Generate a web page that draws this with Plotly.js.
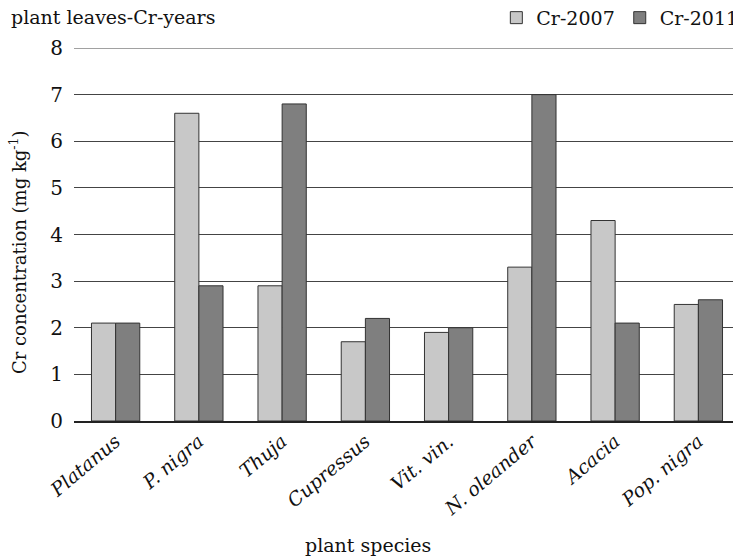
<!DOCTYPE html>
<html><head><meta charset="utf-8">
<script src="https://cdn.plot.ly/plotly-3.0.1.min.js"></script>
<style>html,body{margin:0;padding:0;overflow:hidden;background:#fff;width:733px;height:556px}</style>
</head><body><div id="chart"></div>
<script>
const species = ["Platanus","P. nigra","Thuja","Cupressus","Vit. vin.","N. oleander","Acacia","Pop. nigra"];
const cr2007 = [2.1, 6.6, 2.9, 1.7, 1.9, 3.3, 4.3, 2.5];
const cr2011 = [2.1, 2.9, 6.8, 2.2, 2.0, 7.0, 2.1, 2.6];
const tickLabels = species.map(s => "<i>" + s + "</i>");
const yTicks = [0,1,2,3,4,5,6,7,8];
const yMax = 8;

const font = "DejaVu Serif, Liberation Serif, serif";
const traces = [
  {type:"bar", name:"Cr-2007", x:species, y:cr2007,
   marker:{color:"#c8c8c8", line:{color:"#333", width:1}}},
  {type:"bar", name:"Cr-2011", x:species, y:cr2011,
   marker:{color:"#7f7f7f", line:{color:"#333", width:1}}}
];
const layout = {
  width:745, height:556,
  margin:{l:74, r:5, t:48, b:135, autoexpand:false},
  paper_bgcolor:"#fff", plot_bgcolor:"#fff",
  font:{family:font, size:17, color:"#111"},
  barmode:"group", bargap:0.42, bargroupgap:0,
  showlegend:true,
  legend:{orientation:"h", x:1.005, xanchor:"right", yref:"container", y:0.968, yanchor:"middle",
          font:{size:19}, itemwidth:30, tracegroupgap:0},
  shapes:[{type:"line", xref:"paper", yref:"y", x0:0, x1:1, y0:yMax, y1:yMax,
           line:{color:"#444", width:1}, layer:"below"}],
  annotations:[
    {text:"plant leaves-Cr-years", xref:"paper", yref:"paper",
     x:-0.097, xanchor:"left", y:1.083, yanchor:"middle", showarrow:false, font:{size:19}},
    {text:"plant species", xref:"paper", yref:"paper",
     x:0.441, xanchor:"center", y:-0.332, yanchor:"middle", showarrow:false, font:{size:19}},
    {text:"Cr concentration (mg kg<sup>-1</sup>)", xref:"paper", yref:"paper", textangle:-90,
     x:-0.084, xanchor:"center", y:0.453, yanchor:"middle", showarrow:false, font:{size:18}}
  ],
  xaxis:{tickmode:"array", tickvals:species, ticktext:tickLabels,
    tickangle:-40, tickfont:{size:19}, showline:true, linecolor:"#222", linewidth:2,
    ticks:"", showgrid:false},
  yaxis:{range:[0,yMax], tickvals:yTicks, showgrid:true, gridcolor:"#444", gridwidth:1,
    zeroline:false, showline:false, ticks:"", ticklabelstandoff:10,
    tickfont:{size:20}}
};
Plotly.newPlot("chart", traces, layout, {displayModeBar:false, staticPlot:true});
</script></body></html>
